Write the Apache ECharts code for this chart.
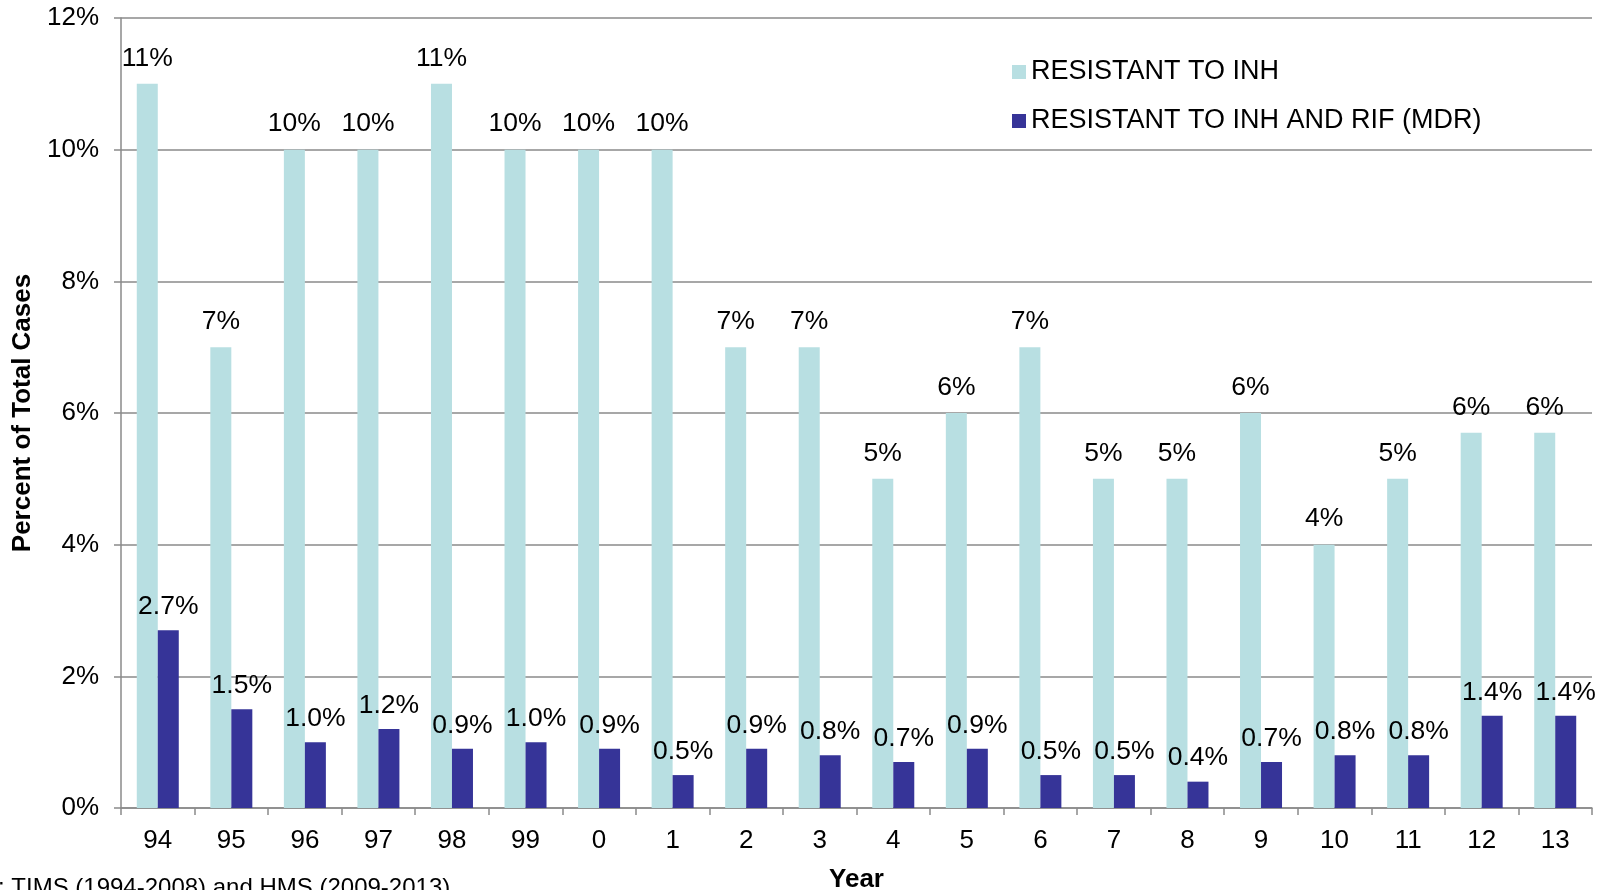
<!DOCTYPE html>
<html>
<head>
<meta charset="utf-8">
<script src="https://cdn.jsdelivr.net/npm/echarts@6/dist/echarts.min.js"></script>
<style>
html,body{margin:0;padding:0;background:#fff;}
#chart{width:1607px;height:890px;}
</style>
</head>
<body>
<div id="chart"></div>
<script>
var years = ['94','95','96','97','98','99','0','1','2','3','4','5','6','7','8','9','10','11','12','13'];
var resistantINH = [11, 7, 10, 10, 11, 10, 10, 10, 7, 7, 5, 6, 7, 5, 5, 6, 4, 5, 5.7, 5.7];
var resistantMDR = [2.7, 1.5, 1.0, 1.2, 0.9, 1.0, 0.9, 0.5, 0.9, 0.8, 0.7, 0.9, 0.5, 0.5, 0.4, 0.7, 0.8, 0.8, 1.4, 1.4];
var yTicks = [0, 2, 4, 6, 8, 10, 12];
var seriesNames = ['RESISTANT TO INH', 'RESISTANT TO INH AND RIF (MDR)'];
var sourceText = ': TIMS (1994-2008) and HMS (2009-2013)';

var FONT = '"Liberation Sans", Arial, Helvetica, sans-serif';
var FS = 26;
var chart = echarts.init(document.getElementById('chart'), null, {renderer: 'canvas'});
var axisGray = '#8a8a8a';

chart.setOption({
  animation: false,
  backgroundColor: '#ffffff',
  textStyle: {fontFamily: FONT, color: '#000'},
  grid: {left: 121, right: 15, top: 18, bottom: 82, containLabel: false, outerBoundsMode: 'none'},
  legend: {
    orient: 'vertical',
    left: 1007,
    top: 53,
    padding: 5,
    itemWidth: 14,
    itemHeight: 14,
    itemGap: 21,
    icon: 'rect',
    textStyle: {fontSize: 27, fontFamily: FONT, color: '#000', lineHeight: 28},
    data: seriesNames
  },
  xAxis: {
    type: 'category',
    data: years,
    name: 'Year',
    nameLocation: 'middle',
    nameGap: 59,
    nameTextStyle: {fontSize: FS, fontWeight: 'bold', fontFamily: FONT, color: '#000'},
    axisLine: {lineStyle: {color: axisGray, width: 1.5}},
    axisTick: {show: true, alignWithLabel: false, length: 7, lineStyle: {color: axisGray, width: 1.5}},
    axisLabel: {fontSize: FS, fontFamily: FONT, color: '#000', margin: 20}
  },
  yAxis: {
    type: 'value',
    min: 0,
    max: 12,
    interval: 2,
    name: 'Percent of Total Cases',
    nameLocation: 'middle',
    nameGap: 82,
    nameTextStyle: {fontSize: FS, fontWeight: 'bold', fontFamily: FONT, color: '#000'},
    axisLine: {show: true, lineStyle: {color: axisGray, width: 1.5}},
    axisTick: {show: true, length: 7, lineStyle: {color: axisGray, width: 1.5}},
    splitLine: {show: true, lineStyle: {color: axisGray, width: 1.5}},
    axisLabel: {
      fontSize: FS, fontFamily: FONT, color: '#000', margin: 22,
      formatter: function (v) { return yTicks.indexOf(v) >= 0 ? v + '%' : ''; }
    }
  },
  series: [
    {
      name: seriesNames[0],
      type: 'bar',
      data: resistantINH,
      barWidth: 21,
      barGap: '0%',
      itemStyle: {color: '#b8dfe2'},
      label: {
        show: true, position: 'top', distance: 12,
        fontSize: 26.5, fontFamily: FONT, color: '#000',
        formatter: function (p) { return Math.round(p.value) + '%'; }
      }
    },
    {
      name: seriesNames[1],
      type: 'bar',
      data: resistantMDR,
      barWidth: 21,
      barGap: '0%',
      itemStyle: {color: '#363498'},
      label: {
        show: true, position: 'top', distance: 10,
        fontSize: 26.5, fontFamily: FONT, color: '#000',
        formatter: function (p) { return p.value.toFixed(1) + '%'; }
      }
    }
  ],
  graphic: [{
    type: 'text',
    left: -2,
    top: 876,
    style: {text: sourceText, fontSize: 24, fontFamily: FONT, fill: '#000'}
  }]
});
</script>
</body>
</html>
